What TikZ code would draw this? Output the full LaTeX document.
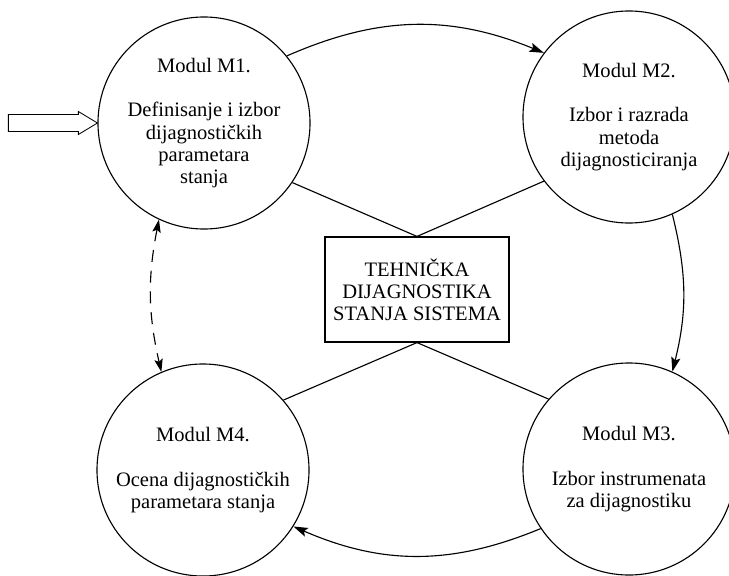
\documentclass[tikz,border=0pt]{standalone}
\usepackage{fontspec}
\setmainfont{Liberation Serif}
\usetikzlibrary{arrows.meta}

\tikzset{modul/.style = {circle, draw, line width=0.8pt, minimum size=5.3cm,
                         inner sep=0pt, align=center},
         jezgro/.style = {rectangle, draw, line width=0.8pt, minimum width=4.6cm,
                          minimum height=2.625cm, inner sep=0pt, align=center},
         tok/.style = {line width=0.8pt, -{Stealth[length=3.6mm, width=2.3mm, inset=0.7mm]}},
         povrat/.style = {line width=0.8pt, dash pattern=on 3mm off 2.2mm,
                          {Stealth[length=3.2mm, width=2.1mm, inset=0.6mm]}-{Stealth[length=3.2mm, width=2.1mm, inset=0.6mm]}},
         veza/.style = {line width=0.8pt}
        }

\begin{document}
\begin{tikzpicture}[x=0.025cm, y=0.025cm, font=\fontsize{14.6pt}{15.8pt}\selectfont]
  \useasboundingbox (0,0) rectangle (729,575);

  % moduli
  \node[modul] (m1) at (204,452) {Modul M1.\\[15.8pt] Definisanje i izbor\\ dijagnostičkih\\ parametara\\ stanja};
  \node[modul] (m2) at (629,458) {Modul M2.\\[15.8pt] Izbor i razrada\\ metoda\\ dijagnosticiranja};
  \node[modul] (m3) at (629,106) {Modul M3.\\[15.8pt] Izbor instrumenata\\ za dijagnostiku};
  \node[modul] (m4) at (203,105) {Modul M4.\\[15.8pt] Ocena dijagnostičkih\\ parametara stanja};
  \node[jezgro] (td) at (417,285.5) {TEHNIČKA\\ DIJAGNOSTIKA\\ STANJA SISTEMA};

  % veze sa centrom
  \draw[veza] (m1.-34) -- (td.north) -- (m2.217.5);
  \draw[veza] (m4.41) -- (td.south) -- (m3.139);

  % tok izmedju modula
  \draw[tok] (m1.39) to[bend left=23] (m2.143);
  \draw[tok] (m2.-66) to[bend left=14] (m3.66);
  \draw[tok] (m3.-146.6) to[bend left=23] (m4.-32.7);
  \draw[povrat] (m1.-115) to[bend right=12] (m4.113);

  % ulaz
  \draw[line width=0.6pt] (m1.west) -- ++(-19,11.5) -- ++(0,-3) -- ++(-70,0) -- ++(0,-17)
        -- ++(70,0) -- ++(0,-3) -- cycle;
\end{tikzpicture}
\end{document}
